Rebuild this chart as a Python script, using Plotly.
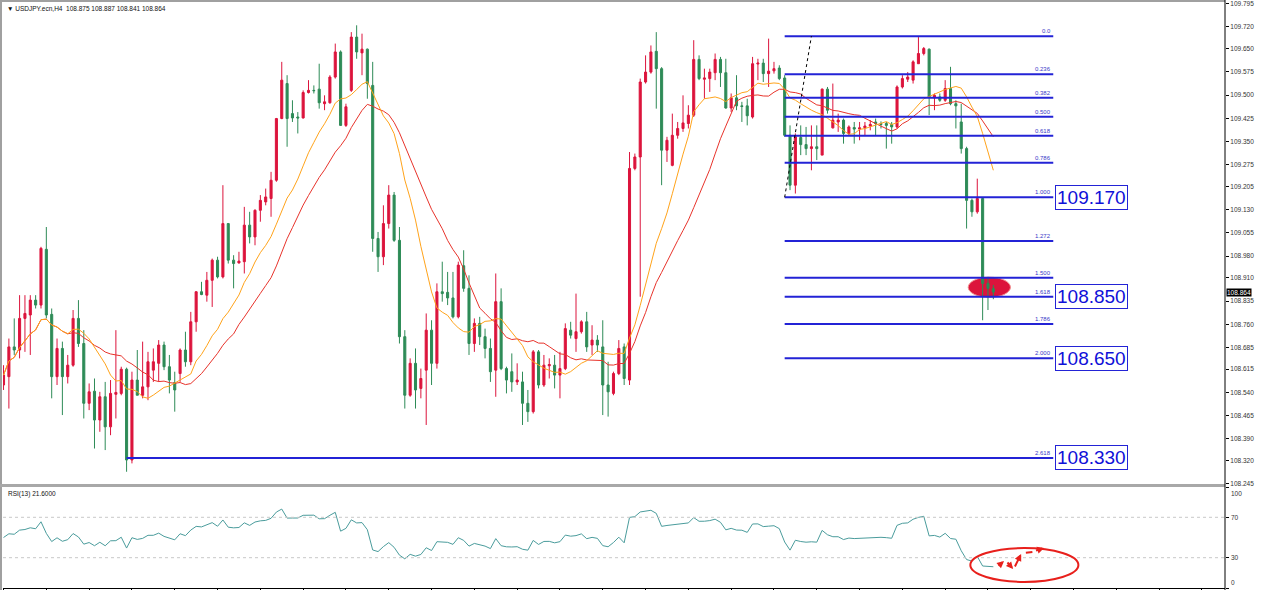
import numpy as np
import pandas as pd
import plotly.graph_objects as go

W, H = 1280, 590

# ---------------- data (USDJPY H4) ----------------
OPEN = [
    108.564,108.591,108.687,108.677,108.779,108.790,108.838,108.822,109.002,108.792,
    108.591,108.682,108.591,108.628,108.779,108.698,108.505,108.544,108.451,108.526,
    108.429,108.534,108.537,108.615,108.322,108.580,108.531,108.558,108.612,108.634,
    108.693,108.623,108.572,108.601,108.677,108.639,108.768,108.865,108.854,108.902,
    108.967,108.913,109.085,108.967,108.958,108.962,109.080,109.042,109.128,109.155,
    109.166,109.225,109.424,109.537,109.440,109.429,109.426,109.508,109.515,109.519,
    109.472,109.475,109.558,109.639,109.402,109.515,109.687,109.636,109.648,109.531,
    109.037,108.978,109.085,109.177,109.031,108.720,108.531,108.634,108.553,108.612,
    108.741,108.634,108.865,108.863,108.845,108.784,108.949,108.876,108.698,108.763,
    108.720,108.682,108.612,108.833,108.617,108.607,108.574,108.574,108.505,108.478,
    108.671,108.564,108.626,108.628,108.596,108.617,108.741,108.714,108.736,108.768,
    108.693,108.709,108.687,108.564,108.537,108.601,108.687,108.580,109.263,109.300,
    109.542,109.574,109.641,109.585,109.322,109.273,109.370,109.392,109.408,109.435,
    109.615,109.551,109.553,109.572,109.615,109.572,109.458,109.491,109.465,109.465,
    109.429,109.600,109.603,109.569,109.578,109.587,109.555,109.370,109.209,109.363,
    109.340,109.327,109.333,109.306,109.519,109.394,109.413,109.419,109.376,109.395,
    109.390,109.394,109.400,109.413,109.408,109.408,109.405,109.397,109.526,109.551,
    109.548,109.601,109.634,109.648,109.491,109.494,109.483,109.521,109.472,109.413,
    109.327,109.160,109.123,109.166,108.892,108.875]
HIGH = [
    108.628,108.714,108.779,108.854,108.854,108.854,108.854,109.010,109.074,108.811,
    108.714,108.704,108.661,108.806,108.838,108.741,108.569,108.585,108.542,108.574,
    108.580,108.741,108.623,108.620,108.607,108.677,108.704,108.671,108.682,108.709,
    108.704,108.661,108.607,108.682,108.736,108.800,108.867,108.897,108.929,108.972,
    108.978,109.209,109.087,108.983,108.994,109.139,109.123,109.131,109.177,109.198,
    109.252,109.426,109.607,109.564,109.483,109.445,109.515,109.548,109.531,109.601,
    109.499,109.564,109.666,109.644,109.472,109.703,109.725,109.698,109.650,109.607,
    109.058,109.144,109.209,109.187,109.074,108.741,108.650,108.682,108.617,108.795,
    108.773,108.892,108.962,108.929,108.929,108.962,108.999,108.918,108.779,108.784,
    108.746,108.714,108.924,108.876,108.623,108.666,108.634,108.607,108.548,108.677,
    108.677,108.661,108.650,108.661,108.671,108.763,108.768,108.859,108.773,108.800,
    108.757,108.725,108.773,108.639,108.607,108.709,108.698,109.316,109.311,109.553,
    109.628,109.660,109.703,109.590,109.365,109.440,109.413,109.499,109.467,109.677,
    109.628,109.585,109.585,109.634,109.623,109.617,109.505,109.564,109.478,109.488,
    109.623,109.617,109.617,109.682,109.607,109.596,109.564,109.402,109.376,109.402,
    109.397,109.402,109.402,109.521,109.526,109.537,109.440,109.424,109.402,109.413,
    109.413,109.413,109.419,109.424,109.415,109.413,109.413,109.531,109.564,109.574,
    109.612,109.687,109.655,109.650,109.505,109.505,109.548,109.591,109.483,109.472,
    109.333,109.166,109.230,109.170,108.913,108.887]
LOW = [
    108.548,108.488,108.661,108.650,108.671,108.661,108.811,108.811,108.779,108.521,
    108.564,108.467,108.569,108.623,108.687,108.456,108.483,108.359,108.413,108.354,
    108.402,108.456,108.531,108.284,108.311,108.531,108.521,108.515,108.574,108.574,
    108.612,108.537,108.478,108.574,108.623,108.628,108.736,108.854,108.833,108.816,
    108.908,108.908,108.956,108.876,108.956,108.924,109.021,109.015,109.091,109.144,
    109.107,109.220,109.422,109.333,109.413,109.376,109.424,109.505,109.505,109.456,
    109.451,109.472,109.553,109.400,109.397,109.510,109.617,109.564,109.488,108.994,
    108.929,108.951,109.069,109.026,108.698,108.488,108.526,108.488,108.521,108.435,
    108.564,108.617,108.833,108.822,108.779,108.779,108.865,108.661,108.671,108.693,
    108.650,108.574,108.526,108.612,108.537,108.542,108.564,108.435,108.445,108.472,
    108.553,108.558,108.585,108.553,108.521,108.612,108.714,108.671,108.730,108.671,
    108.661,108.671,108.467,108.462,108.531,108.596,108.564,108.564,109.257,108.849,
    109.537,109.569,109.456,109.209,109.284,109.270,109.359,109.381,109.392,109.429,
    109.548,109.488,109.510,109.548,109.526,109.456,109.445,109.451,109.413,109.402,
    109.424,109.548,109.542,109.526,109.569,109.548,109.365,109.193,109.182,109.306,
    109.306,109.257,109.290,109.306,109.440,109.392,109.381,109.343,109.370,109.343,
    109.354,109.370,109.386,109.370,109.392,109.327,109.343,109.392,109.521,109.542,
    109.537,109.601,109.628,109.435,109.451,109.478,109.478,109.467,109.392,109.311,
    109.069,109.107,109.117,108.773,108.806,108.841]
CLOSE = [
    108.596,108.687,108.677,108.779,108.795,108.838,108.822,109.005,108.790,108.591,
    108.682,108.591,108.628,108.779,108.698,108.505,108.542,108.451,108.526,108.429,
    108.537,108.540,108.615,108.322,108.580,108.531,108.558,108.639,108.639,108.693,
    108.623,108.580,108.548,108.677,108.639,108.768,108.865,108.856,108.902,108.967,
    108.913,109.085,108.967,108.956,108.964,109.080,109.042,109.128,109.160,109.171,
    109.225,109.424,109.548,109.424,109.426,109.426,109.508,109.515,109.514,109.475,
    109.478,109.558,109.639,109.402,109.462,109.687,109.639,109.648,109.537,109.037,
    108.978,109.085,109.177,109.031,108.720,108.531,108.634,108.548,108.585,108.741,
    108.634,108.865,108.859,108.845,108.784,108.951,108.876,108.698,108.763,108.720,
    108.682,108.607,108.833,108.617,108.580,108.574,108.580,108.505,108.478,108.671,
    108.564,108.628,108.630,108.596,108.617,108.746,108.725,108.736,108.768,108.687,
    108.709,108.693,108.564,108.542,108.601,108.682,108.585,109.263,109.300,109.542,
    109.574,109.639,109.585,109.322,109.354,109.370,109.392,109.410,109.435,109.615,
    109.553,109.555,109.574,109.615,109.572,109.458,109.491,109.465,109.463,109.433,
    109.601,109.603,109.569,109.577,109.585,109.553,109.370,109.209,109.365,109.340,
    109.327,109.333,109.327,109.519,109.451,109.419,109.419,109.376,109.397,109.390,
    109.394,109.400,109.405,109.408,109.405,109.402,109.397,109.526,109.553,109.558,
    109.607,109.634,109.650,109.494,109.499,109.483,109.521,109.472,109.465,109.327,
    109.160,109.123,109.166,108.892,108.876,108.864]

PRICE_TICKS = [109.795, 109.720, 109.650, 109.575, 109.500, 109.425, 109.350, 109.275,
               109.205, 109.130, 109.055, 108.980, 108.910, 108.835, 108.760, 108.685,
               108.615, 108.540, 108.465, 108.390, 108.320, 108.245]
RSI_TICKS = [100, 70, 30, 0]

FIB_HIGH = 109.690
FIB_LOW = 109.170
FIB_RATIOS = [0.0, 0.236, 0.382, 0.5, 0.618, 0.786, 1.0, 1.272, 1.5, 1.618, 1.786, 2.0, 2.618]
FIB_LABELS = ["0.0", "0.236", "0.382", "0.500", "0.618", "0.786", "1.000", "1.272",
              "1.500", "1.618", "1.786", "2.000", "2.618"]
FIB_BOXED = {1.0: "109.170", 1.618: "108.850", 2.0: "108.650", 2.618: "108.330"}
FIB_START_BAR = 146
FIB_LONG_START_BAR = 23      # the 2.618 line reaches back to the swing low
FIB_END_BAR = 196.2
ANCHOR_BARS = [146, 151]     # dotted fib anchor line

MA_FAST, MA_SLOW = 13, 21
RSI_PERIOD = 13

TITLE = "\u25bc USDJPY.ecn,H4  108.875 108.887 108.841 108.864"
RSI_TITLE = "RSI(13) 21.6000"
LAST_PRICE = 108.864

# red hand-drawn markup in the RSI pane: (x0, y0, x1, y1, arrowhead?)
RSI_MARKUP = [(185.7, 20.8, 187.0, 26.7, True),
              (187.4, 26.7, 188.7, 18.8, True),
              (188.9, 19.8, 190.2, 33.7, True),
              (190.8, 34.7, 192.3, 35.6, False),
              (192.7, 36.6, 194.5, 39.6, True)]

# ---------------- derived series ----------------
n = len(CLOSE)
x = np.arange(n)
cs = pd.Series(CLOSE)
ma_fast = cs.rolling(MA_FAST, min_periods=1).mean()
ma_slow = cs.rolling(MA_SLOW, min_periods=1).mean()

d = cs.diff().fillna(0.0).to_numpy()
g = np.clip(d, 0, None)
l = np.clip(-d, 0, None)
ag = np.empty(n)
al = np.empty(n)
seed = np.abs(d[1:RSI_PERIOD + 1]).mean() / 2
ag[0] = al[0] = seed
for i in range(1, n):
    ag[i] = (ag[i - 1] * (RSI_PERIOD - 1) + g[i]) / RSI_PERIOD
    al[i] = (al[i - 1] * (RSI_PERIOD - 1) + l[i]) / RSI_PERIOD
rsi = 100 * ag / (ag + al)

# ---------------- geometry ----------------
def py(px):  # pixel row -> paper y
    return (H - px) / H

def pxx(px):
    return px / W

X_LEFT, X_RIGHT = 3, 1225
MAIN_TOP, MAIN_BOT = 3, 484
RSI_TOP, RSI_BOT = 487, 588
XRANGE = [-0.1, 228.3]

BULL = "#dc143c"
BEAR = "#2e8b57"
FIBC = "#2323d6"
AXFONT = dict(family="Liberation Sans", size=6.5, color="#333")

fig = go.Figure()

fig.add_trace(go.Candlestick(
    x=x, open=OPEN, high=HIGH, low=LOW, close=CLOSE,
    increasing=dict(line=dict(color=BULL, width=1), fillcolor=BULL),
    decreasing=dict(line=dict(color=BEAR, width=1), fillcolor=BEAR),
    whiskerwidth=0, showlegend=False, xaxis="x", yaxis="y"))

fig.add_trace(go.Scatter(x=x, y=ma_slow, mode="lines", line=dict(color="#e8332b", width=1),
                         showlegend=False, xaxis="x", yaxis="y"))
fig.add_trace(go.Scatter(x=x, y=ma_fast, mode="lines", line=dict(color="#ffa31a", width=1),
                         showlegend=False, xaxis="x", yaxis="y"))

# fibonacci levels
fx, fy = [], []
for r in FIB_RATIOS:
    lvl = FIB_HIGH - r * (FIB_HIGH - FIB_LOW)
    start = FIB_LONG_START_BAR if r == 2.618 else FIB_START_BAR
    fx += [start, FIB_END_BAR, None]
    fy += [lvl, lvl, None]
fig.add_trace(go.Scatter(x=fx, y=fy, mode="lines", line=dict(color=FIBC, width=2),
                         showlegend=False, xaxis="x", yaxis="y"))
fig.add_trace(go.Scatter(x=ANCHOR_BARS, y=[FIB_LOW, FIB_HIGH], mode="lines",
                         line=dict(color="#000000", width=1, dash="dot"),
                         showlegend=False, xaxis="x", yaxis="y"))

# RSI
fig.add_trace(go.Scatter(x=x, y=rsi, mode="lines", line=dict(color="#4a9c9c", width=1),
                         showlegend=False, xaxis="x2", yaxis="y2"))
for lv in (70, 30):
    fig.add_trace(go.Scatter(x=XRANGE, y=[lv, lv], mode="lines",
                             line=dict(color="#c8c8c8", width=1, dash="dot"),
                             showlegend=False, xaxis="x2", yaxis="y2"))

annotations = []
for r, lab in zip(FIB_RATIOS, FIB_LABELS):
    lvl = FIB_HIGH - r * (FIB_HIGH - FIB_LOW)
    annotations.append(dict(x=FIB_END_BAR, y=lvl, xref="x", yref="y", text=lab,
                            showarrow=False, xanchor="right", yanchor="bottom",
                            font=dict(family="Liberation Sans", size=6, color="#3a3ac8")))
    if r in FIB_BOXED:
        annotations.append(dict(x=pxx(1055), y=lvl, xref="paper", yref="y",
                                text=FIB_BOXED[r], showarrow=False, xanchor="left",
                                yanchor="middle", bgcolor="white", bordercolor=FIBC,
                                borderwidth=1, borderpad=1,
                                font=dict(family="Liberation Sans", size=19, color="#1010d8")))

annotations.append(dict(x=pxx(5), y=py(8), xref="paper", yref="paper", text=TITLE,
                        showarrow=False, xanchor="left", yanchor="middle",
                        font=dict(family="Liberation Sans", size=6.5, color="#111")))
annotations.append(dict(x=pxx(6), y=py(494), xref="paper", yref="paper", text=RSI_TITLE,
                        showarrow=False, xanchor="left", yanchor="middle",
                        font=dict(family="Liberation Sans", size=6.5, color="#111")))
annotations.append(dict(x=pxx(1226), y=LAST_PRICE, xref="paper", yref="y",
                        text=f"{LAST_PRICE:.3f}", showarrow=False, xanchor="left",
                        yanchor="middle", bgcolor="#000000", borderpad=0,
                        font=dict(family="Liberation Sans", size=6.5, color="#ffffff")))

# RSI scale labels: edge labels are kept inside the pane, as in the terminal
RSI_LABEL_ANCHOR = {100: "top", 70: "middle", 30: "middle", 0: "bottom"}
for v in RSI_TICKS:
    annotations.append(dict(x=pxx(1229), y=v, xref="paper", yref="y2", text=str(v),
                            showarrow=False, xanchor="left", yanchor=RSI_LABEL_ANCHOR[v],
                            yshift=-1 if v == 100 else 0, font=AXFONT))

for x0, y0, x1, y1, head in RSI_MARKUP:
    annotations.append(dict(x=x1, y=y1, ax=x0, ay=y0, xref="x2", yref="y2",
                            axref="x2", ayref="y2", text="", showarrow=True,
                            arrowhead=2 if head else 0, arrowsize=0.7, arrowwidth=2,
                            arrowcolor="#e8201c"))

shapes = [
    # red marker on the price pane
    dict(type="circle", xref="x", yref="y", x0=180.3, x1=188.2, y0=108.847, y1=108.912,
         fillcolor=BULL, line=dict(color="#f29090", width=1), layer="below"),
    # red ellipse on the RSI pane
    dict(type="circle", xref="x2", yref="y2", x0=180.7, x1=200.9, y0=6, y1=39.5,
         line=dict(color="#e8201c", width=2)),
    # window frame
    dict(type="rect", xref="paper", yref="paper", x0=0, x1=pxx(2), y0=0, y1=1,
         fillcolor="#a0a0a0", line=dict(width=0)),
    dict(type="rect", xref="paper", yref="paper", x0=0, x1=pxx(X_RIGHT), y0=py(2), y1=1,
         fillcolor="#a0a0a0", line=dict(width=0)),
    dict(type="rect", xref="paper", yref="paper", x0=0, x1=pxx(X_RIGHT), y0=py(487),
         y1=py(484), fillcolor="#a8a8a8", line=dict(width=0)),
    dict(type="line", xref="paper", yref="paper", x0=pxx(X_RIGHT), x1=pxx(X_RIGHT),
         y0=0, y1=1, line=dict(color="#000000", width=1)),
]

fig.update_layout(
    width=W, height=H, autosize=False,
    margin=dict(l=0, r=0, t=0, b=0, pad=0, autoexpand=False),
    paper_bgcolor="white", plot_bgcolor="white",
    showlegend=False, boxgap=0.45,
    annotations=annotations, shapes=shapes,
    xaxis=dict(domain=[pxx(X_LEFT), pxx(X_RIGHT)], range=XRANGE, anchor="y",
               showticklabels=False, ticks="", showgrid=False, zeroline=False,
               rangeslider=dict(visible=False), fixedrange=True, automargin=False),
    xaxis2=dict(domain=[pxx(X_LEFT), pxx(X_RIGHT)], range=XRANGE, anchor="y2", matches="x",
                showticklabels=False, ticks="outside", ticklen=3, tickcolor="#000",
                tick0=0, dtick=8, showgrid=False, zeroline=False, showline=True,
                linecolor="#000", linewidth=1, automargin=False),
    yaxis=dict(domain=[py(MAIN_BOT), py(MAIN_TOP)], range=[108.2445, 109.797], side="right",
               anchor="x", tickvals=PRICE_TICKS, ticktext=[f"{v:.3f}" for v in PRICE_TICKS],
               ticks="outside", ticklen=3, tickcolor="#000", showgrid=False, zeroline=False,
               tickfont=AXFONT, showline=False, automargin=False,
               ticklabeloverflow="allow"),
    yaxis2=dict(domain=[py(RSI_BOT), py(RSI_TOP)], range=[0, 100], side="right",
                anchor="x2", tickvals=RSI_TICKS, ticks="outside", ticklen=3,
                tickcolor="#000", showgrid=False, zeroline=False,
                showticklabels=False, showline=False, automargin=False),
)

fig.write_html("out.html")
